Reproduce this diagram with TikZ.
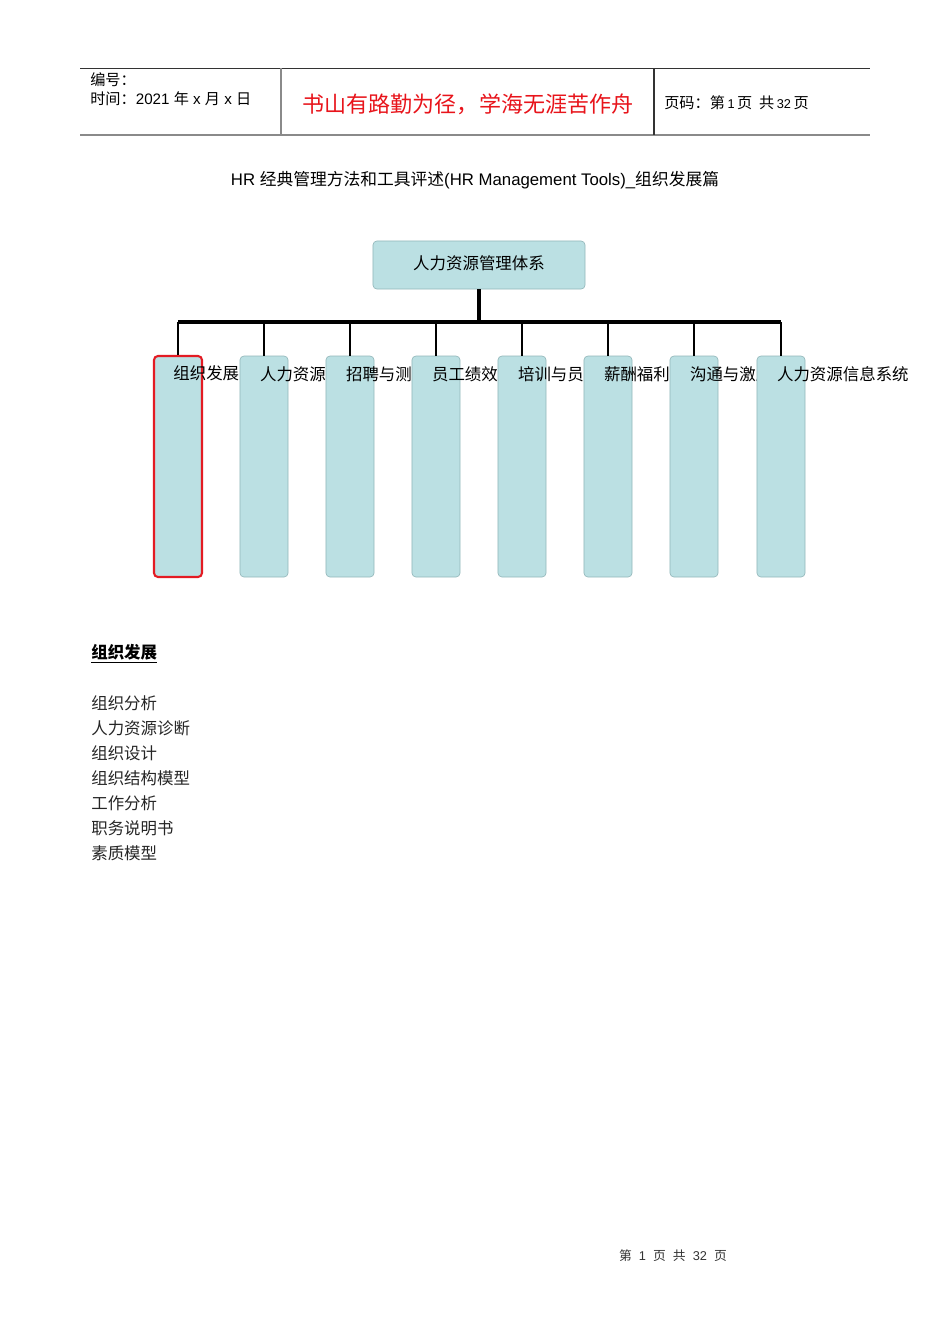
\documentclass[tikz,border=0pt]{standalone}
\usepackage{fontspec}
\setmainfont{Liberation Sans}
\newfontfamily\cjk{Noto Sans CJK SC}
\usetikzlibrary{positioning}
\definecolor{cbox}{HTML}{BBE0E3}
\definecolor{cboxD}{HTML}{93B7BA}
\definecolor{csel}{HTML}{E31B23}
\definecolor{cmotto}{HTML}{E8141B}
\definecolor{crule}{HTML}{8A8A8A}
\tikzset{
  txt/.style={inner sep=0pt, anchor=west, font=\fontsize{10.3}{12}\selectfont},
  headtxt/.style={inner sep=0pt, anchor=west, font=\fontsize{9.5}{11}\selectfont},
  topbox/.style={draw=cboxD, fill=cbox, rounded corners=2.5pt, inner sep=0pt,
                 minimum width=132.8pt, minimum height=30.1pt, font=\cjk\fontsize{10.3}{12}\selectfont},
  subbox/.style={draw=cboxD, fill=cbox, rounded corners=2.5pt, inner sep=0pt,
                 minimum width=30.1pt, minimum height=138.4pt},
  selbox/.style={subbox, draw=csel, line width=1.3pt},
  trunk/.style={line width=2pt},
  branch/.style={line width=1.3pt},
}

\begin{document}
\begin{tikzpicture}[x=0.6263pt, y=-0.6263pt]
  \path[fill=white, use as bounding box] (0,0) rectangle (950,1344);

  % header
  \draw[line width=0.6pt, black!80] (80,68) -- (870,68);
  \draw[line width=1.2pt, crule] (80,135) -- (870,135);
  \draw[line width=0.8pt, crule] (281,68) -- (281,135);
  \draw[line width=0.8pt, black!80] (654,68) -- (654,135);
  \node[headtxt] (num) at (90,80) {\cjk 编号：};
  \node[headtxt] (date) at (90,99) {{\cjk 时间：}2021 {\cjk 年} x {\cjk 月} x {\cjk 日}};
  \node[inner sep=0pt, text=cmotto, font=\cjk\fontsize{13.8}{16}\selectfont] (motto) at (468,104)
    {书山有路勤为径，学海无涯苦作舟};
  \node[headtxt] (page) at (664,103) {{\cjk 页码：第}\,{\footnotesize 1}\,{\cjk 页\ \ 共}\,{\footnotesize 32}\,{\cjk 页}};

  % title
  \node[inner sep=0pt, font=\fontsize{10.5}{12}\selectfont] (title) at (475,180)
    {HR {\cjk 经典管理方法和工具评述}(HR Management Tools)\_{\cjk 组织发展篇}};

  % chart
  \node[topbox] (top) at (479,265) {\raisebox{3pt}{人力资源管理体系}};
  \coordinate (bar) at (479,322);
  \foreach \x/\t/\s [count=\i] in {178/组织发展/selbox, 264/人力资源规/subbox,
      350/招聘与测评/subbox, 436/员工绩效管/subbox, 522/培训与员工/subbox,
      608/薪酬福利/subbox, 694/沟通与激励/subbox, 781/人力资源信息系统/subbox} {
    \node[\s] (c\i) at (\x,466.5) {};
    \node[txt, font=\cjk\fontsize{10.3}{12}\selectfont] (l\i) at ([xshift=12.6pt, yshift=-11.6pt]c\i.north west) {\t};
  }
  \draw[trunk] (top) -- (bar);
  \draw[trunk] (bar -| c1.north) -- (bar -| c8.north);
  \foreach \i in {1,...,8}
    \draw[branch] (bar -| c\i.north) -- (c\i.north);

  % list
  \node[txt, font=\cjk\bfseries\fontsize{10.3}{12}\selectfont] (head) at (91,654) {\underline{组织发展}};
  \foreach \t [count=\i] in {组织分析, 人力资源诊断, 组织设计, 组织结构模型, 工作分析, 职务说明书, 素质模型}
    \node[txt, font=\cjk\fontsize{10.3}{12}\selectfont, text=black!85] (d\i) at (91,678+25*\i) {\t};

  % footer
  \node[inner sep=0pt, font=\fontsize{8}{10}\selectfont, text=black!80] (foot) at (673,1256)
    {{\cjk 第}\ \ 1\ \ {\cjk 页}\ \ {\cjk 共}\ \ 32\ \ {\cjk 页}};
\end{tikzpicture}
\end{document}
